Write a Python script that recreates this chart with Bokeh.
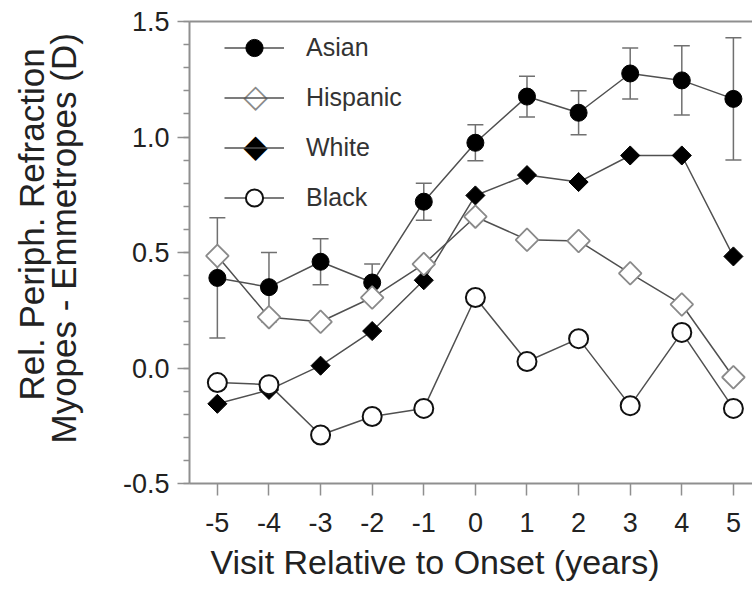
import math
from bokeh.plotting import figure
from bokeh.models import (ColumnDataSource, Whisker, TeeHead, Legend, LegendItem,
                          FixedTicker, SingleIntervalTicker, PrintfTickFormatter,
                          LinearAxis, Label, Range1d, Title)
from bokeh.embed import file_html
from bokeh.resources import INLINE

# ---- data ----
visits = [-5, -4, -3, -2, -1, 0, 1, 2, 3, 4, 5]
asian = [0.39, 0.35, 0.46, 0.37, 0.72, 0.975, 1.175, 1.105, 1.275, 1.245, 1.165]
asian_err = [0.26, 0.15, 0.10, 0.08, 0.08, 0.078, 0.088, 0.095, 0.11, 0.15, 0.265]
hispanic = [0.485, 0.22, 0.20, 0.305, 0.45, 0.655, 0.555, 0.55, 0.41, 0.275, -0.04]
white = [-0.155, -0.095, 0.01, 0.16, 0.38, 0.747, 0.835, 0.805, 0.92, 0.92, 0.483]
black = [-0.063, -0.072, -0.29, -0.21, -0.175, 0.305, 0.028, 0.127, -0.163, 0.154, -0.175]
x_ticks = [-5, -4, -3, -2, -1, 0, 1, 2, 3, 4, 5]
x_label = "Visit Relative to Onset (years)"
y_label_1 = "Rel. Periph. Refraction"
y_label_2 = "Myopes - Emmetropes (D)"

FONT = "Liberation Sans"
AXIS_C = "#8f8f8f"
LINE_C = "#505050"
TEXT_C = "#222222"

W, H = 752, 593
p = figure(width=W, height=H, output_backend="svg", toolbar_location=None,
           x_range=Range1d(-5.54, 5.37), y_range=Range1d(-0.5, 1.5),
           min_border_left=189, min_border_right=0, min_border_top=21,
           min_border_bottom=110)
p.outline_line_color = None
p.grid.visible = False
p.background_fill_color = "white"

# axes styling
xa = p.xaxis[0]
xa.ticker = FixedTicker(ticks=x_ticks)
xa.formatter = PrintfTickFormatter(format="%d")
xa.axis_line_color = AXIS_C
xa.axis_line_width = 2
xa.major_tick_line_color = AXIS_C
xa.major_tick_line_width = 1.5
xa.major_tick_out = 12
xa.major_tick_in = 0
xa.minor_tick_line_color = None
xa.major_label_text_font = FONT
xa.major_label_text_font_size = "27px"
xa.major_label_text_color = TEXT_C
xa.major_label_standoff = 17

ya = p.yaxis[0]
ya.ticker = SingleIntervalTicker(interval=0.5, num_minor_ticks=5)
ya.formatter = PrintfTickFormatter(format="%.1f")
ya.axis_line_color = AXIS_C
ya.axis_line_width = 2
ya.major_tick_line_color = AXIS_C
ya.major_tick_line_width = 1.5
ya.major_tick_out = 12
ya.major_tick_in = 0
ya.minor_tick_line_color = AXIS_C
ya.minor_tick_line_width = 1.5
ya.minor_tick_out = 6
ya.minor_tick_in = 0
ya.major_label_text_font = FONT
ya.major_label_text_font_size = "27px"
ya.major_label_text_color = TEXT_C
ya.major_label_standoff = 8

top = LinearAxis(ticker=FixedTicker(ticks=[]), axis_line_color=AXIS_C,
                 axis_line_width=2, major_tick_line_color=None,
                 minor_tick_line_color=None)
p.add_layout(top, "above")

# axis titles
p.add_layout(Title(text=x_label, align="left", offset=21, standoff=12,
                   text_font=FONT, text_font_size="34px", text_font_style="normal",
                   text_color=TEXT_C), "below")
p.add_layout(Title(text=y_label_2, align="left", offset=40, standoff=73,
                   text_font=FONT, text_font_size="35px",
                   text_font_style="normal", text_color=TEXT_C), "left")
p.add_layout(Title(text=y_label_1, align="left", offset=83, standoff=-91,
                   text_font=FONT, text_font_size="35px",
                   text_font_style="normal", text_color=TEXT_C), "left")

# error bars (Asian)
src_err = ColumnDataSource(dict(x=visits,
                                lower=[a - e for a, e in zip(asian, asian_err)],
                                upper=[a + e for a, e in zip(asian, asian_err)]))
wh = Whisker(source=src_err, base="x", lower="lower", upper="upper",
             line_color="#707070", line_width=1.5,
             upper_head=TeeHead(size=16, line_color="#707070", line_width=1.5),
             lower_head=TeeHead(size=16, line_color="#707070", line_width=1.5),
             level="underlay")
p.add_layout(wh)

# series
la = p.line(visits, asian, line_color=LINE_C, line_width=1.5)
lw = p.line(visits, white, line_color=LINE_C, line_width=1.5)
lh = p.line(visits, hispanic, line_color=LINE_C, line_width=1.5)
lb = p.line(visits, black, line_color=LINE_C, line_width=1.5)

sa = p.scatter(visits, asian, marker="circle", size=17, fill_color="black",
               line_color="black", line_width=1)
sw = p.scatter(visits, white, marker="square", angle=math.pi / 4, size=13.5,
               fill_color="black", line_color="black", line_width=1)
sh = p.scatter(visits, hispanic, marker="square", angle=math.pi / 4, size=16,
               fill_color="white", line_color="#8a8a8a", line_width=1.8)
sb = p.scatter(visits, black, marker="circle", size=19, fill_color="white",
               line_color="#111111", line_width=2)

legend = Legend(items=[
    LegendItem(label="Asian", renderers=[la, sa]),
    LegendItem(label="Hispanic", renderers=[lh]),
    LegendItem(label="White", renderers=[lw]),
    LegendItem(label="Black", renderers=[lb, sb]),
], location=(35, 264), margin=0, padding=0, spacing=7,
    glyph_width=60, glyph_height=43, label_height=43, label_standoff=22,
    label_text_font=FONT, label_text_font_size="25px", label_text_color="#333333",
    border_line_color=None, background_fill_alpha=0)
p.add_layout(legend, "center")

# diamond keys for the legend (rotated-square markers are not drawn rotated in legends)
p.add_layout(Label(x=66, y=483 - 95, x_units="screen", y_units="screen",
                   text="\u25c7", text_align="center", text_baseline="middle",
                   text_font="DejaVu Sans", text_font_size="32px",
                   text_color="#8a8a8a", background_fill_color="white"))
p.add_layout(Label(x=66, y=483 - 145, x_units="screen", y_units="screen",
                   text="\u25c6", text_align="center", text_baseline="middle",
                   text_font="DejaVu Sans", text_font_size="32px",
                   text_color="black"))

open("out.html", "w").write(file_html(p, INLINE))
